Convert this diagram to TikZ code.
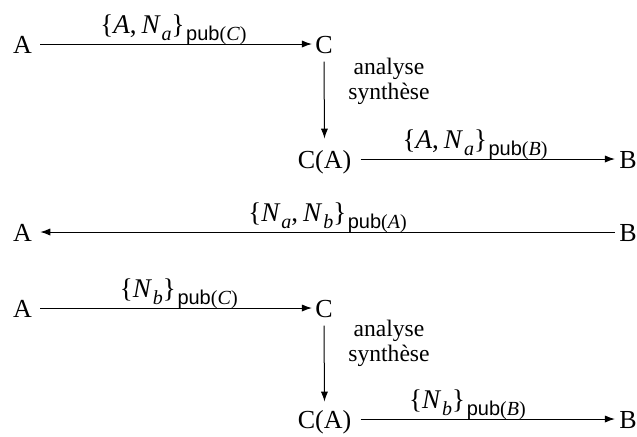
\documentclass[tikz,border=0pt]{standalone}
\usepackage{fontspec}
\setmainfont{Liberation Serif}
\setsansfont{Liberation Sans}
\usetikzlibrary{arrows.meta}
\newcommand\vi[1]{\textit{#1}\/}
\newcommand\subs[1]{\raisebox{-0.26em}{\fontsize{10}{11}\selectfont #1}}
\newcommand\pubk[1]{\kern0.8pt\subs{\sffamily pub\rmfamily(\textit{#1}\/)}}
\newcommand\nonce[1]{\textit{N}\kern0.4pt\subs{\textit{#1}}}
\newcommand\cm{,\kern2.5pt}
\begin{document}
\begin{tikzpicture}[x=0.5pt,y=-0.5pt,
  font=\fontsize{13}{15}\selectfont,
  agent/.style={inner sep=0pt, anchor=base},
  msgarrow/.style={-{Latex[length=5pt,width=3.6pt]}, line width=0.5pt},
  msglabel/.style={font=\fontsize{13.5}{15}\selectfont, anchor=base, inner sep=0pt, yshift=5.3pt},
  note/.style={align=center, font=\fontsize{11.8}{12.5}\selectfont}]
\useasboundingbox (0,0) rectangle (637,436);
% row 1
\node[agent] (a1) at (22.5,53) {A};
\node[agent] (c1) at (324,53) {C};
\node[agent] (ca1) at (324.5,168) {C(A)};
\node[agent] (b1) at (628,168) {B};
% row 2
\node[agent] (a2) at (22.5,241) {A};
\node[agent] (b2) at (628,241) {B};
% row 3
\node[agent] (a3) at (22.5,317) {A};
\node[agent] (c3) at (324,317) {C};
\node[agent] (ca3) at (324.5,428) {C(A)};
\node[agent] (b3) at (628,428) {B};
% arrows
\draw[msgarrow] ([xshift=4pt,yshift=4.5pt]a1.base east) -- node[msglabel, pos=0.49] {\{\vi{A}\cm\nonce{a}\}\pubk{C}} ([xshift=-1.5pt,yshift=4.5pt]c1.base west);
\draw[msgarrow] ([yshift=-4pt]c1.south) -- ([yshift=5.5pt]ca1.north);
\node[note] (n1) at (389,81) {analyse\\synthèse};
\draw[msgarrow] ([xshift=4.5pt,yshift=4.5pt]ca1.base east) -- node[msglabel, pos=0.45] {\{\vi{A}\cm\nonce{a}\}\pubk{B}} ([xshift=-2pt,yshift=4.5pt]b1.base west);
\draw[msgarrow] ([xshift=-2pt,yshift=4.5pt]b2.base west) -- node[msglabel, pos=0.5] {\{\nonce{a}\cm\nonce{b}\}\pubk{A}} ([xshift=4pt,yshift=4.5pt]a2.base east);
\draw[msgarrow] ([xshift=4pt,yshift=4.5pt]a3.base east) -- node[msglabel, pos=0.51] {\{\nonce{b}\}\pubk{C}} ([xshift=-1.5pt,yshift=4.5pt]c3.base west);
\draw[msgarrow] ([yshift=-4pt]c3.south) -- ([yshift=4pt]ca3.north);
\node[note] (n3) at (389,343) {analyse\\synthèse};
\draw[msgarrow] ([xshift=4.5pt,yshift=4.5pt]ca3.base east) -- node[msglabel, pos=0.42] {\{\nonce{b}\}\pubk{B}} ([xshift=-2pt,yshift=4.5pt]b3.base west);
\end{tikzpicture}
\end{document}
